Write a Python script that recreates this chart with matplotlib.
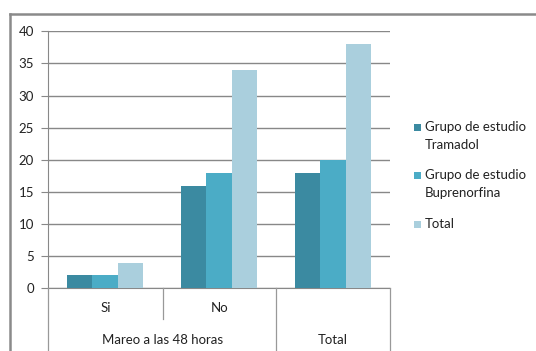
import numpy as np
import matplotlib.pyplot as plt
from matplotlib.lines import Line2D
from matplotlib.patches import Rectangle

plt.rcParams['font.family'] = ['Lato', 'DejaVu Sans']

categories = ['Si', 'No', 'Total']
group_labels = ['Mareo a las 48 horas', 'Total']
series_names = [['Grupo de estudio', 'Tramadol'], ['Grupo de estudio', 'Buprenorfina'], ['Total']]
tramadol = [2, 16, 18]
buprenorfina = [2, 18, 20]
total = [4, 34, 38]
colors = ['#3B8AA1', '#4BACC6', '#AACFDD']

W, H = 536, 351
fig = plt.figure(figsize=(W / 100, H / 100), dpi=100)


def px(xp, yp):
    return xp / W, 1 - yp / H


# plot area in pixels: left 48, right 390, top (y=40) 31, bottom (y=0) 288
ax = fig.add_axes([48 / W, 1 - 288.3 / H, (390 - 48) / W, (288.3 - 31.3) / H])

x = np.arange(len(categories))
bw = 0.22
for i, (vals, c) in enumerate(zip([tramadol, buprenorfina, total], colors)):
    ax.bar(x + (i - 1) * bw, vals, bw, color=c, edgecolor='none', zorder=3)

ax.set_xlim(-0.5, 2.5)
ax.set_ylim(0, 40)
ax.set_yticks(range(0, 41, 5))
ax.yaxis.grid(True, color='#888888', linewidth=1)
ax.tick_params(axis='y', length=5, color='#888888', labelsize=9.5, pad=5,
               labelcolor='#222222')
ax.set_xticks([])
for s in ['top', 'right']:
    ax.spines[s].set_visible(False)
ax.spines['left'].set_color('#888888')
ax.spines['bottom'].set_color('#888888')

# outer chart border
fig.add_artist(Line2D([10 / W, 10 / W], [0, 1 - 14 / H], color='#8a8a8a', lw=1.8))
fig.add_artist(Line2D([10 / W, 1], [1 - 14 / H, 1 - 14 / H], color='#8a8a8a', lw=1.8))

# two-level category axis
sep = '#999999'
for xp in [48, 276, 390]:
    (a, b), (c, d) = px(xp, 288.3), px(xp, 351)
    fig.add_artist(Line2D([a, c], [b, d], color=sep, lw=0.9))
(a, b), (c, d) = px(162.5, 288.3), px(162.5, 319)
fig.add_artist(Line2D([a, c], [b, d], color=sep, lw=0.9))

for cat, xp in zip(categories[:2], [105.5, 219.5]):
    fig.text(*px(xp, 308), cat, ha='center', va='center', fontsize=9.5, color='#222222')
for lab, xp in zip(group_labels, [162.5, 333]):
    fig.text(*px(xp, 340), lab, ha='center', va='center', fontsize=9.5, color='#222222')

# legend: square beside the first line of each entry
for lines, c, y0 in zip(series_names, colors, [127, 175, 224]):
    fig.add_artist(Rectangle(px(414, y0 + 3.5), 7 / W, 7 / H, facecolor=c,
                             edgecolor='none', transform=fig.transFigure))
    for k, t in enumerate(lines):
        fig.text(*px(425, y0 + 18 * k), t, ha='left', va='center', fontsize=9.5,
                 color='#222222')

fig.savefig('out.png', dpi=100)
